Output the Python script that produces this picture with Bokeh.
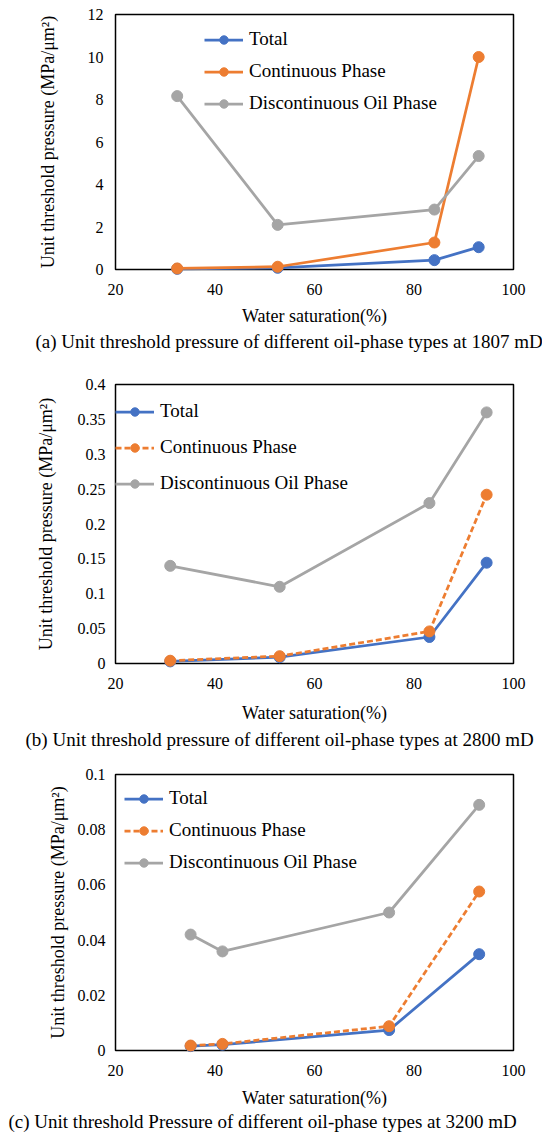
from bokeh.plotting import figure
from bokeh.models import Range1d, FixedTicker, Legend, LegendItem, Title
from bokeh.layouts import column
from bokeh.embed import file_html
from bokeh.resources import INLINE

FONT = "Liberation Serif"
BLUE, ORANGE, GRAY = "#4472C4", "#ED7D31", "#A5A5A5"

series_names = ["Total", "Continuous Phase", "Discontinuous Oil Phase"]
x_ticks = [20, 40, 60, 80, 100]
x_title = "Water saturation(%)"
y_title = "Unit threshold pressure (MPa/\u03bcm\u00b2)"

# (a) 1807 mD
x_a = [32.4, 52.6, 84.1, 93.0]
total_a = [0.03, 0.08, 0.44, 1.05]
cont_a = [0.05, 0.13, 1.27, 10.0]
disc_a = [8.16, 2.10, 2.82, 5.34]
y_ticks_a = [0, 2, 4, 6, 8, 10, 12]
y_labels_a = ["0", "2", "4", "6", "8", "10", "12"]
caption_a = "(a) Unit threshold pressure of different oil-phase types at 1807 mD"

# (b) 2800 mD
x_b = [31.0, 53.0, 83.1, 94.6]
total_b = [0.003, 0.009, 0.038, 0.1445]
cont_b = [0.004, 0.0105, 0.046, 0.242]
disc_b = [0.140, 0.110, 0.230, 0.360]
y_ticks_b = [0, 0.05, 0.1, 0.15, 0.2, 0.25, 0.3, 0.35, 0.4]
y_labels_b = ["0", "0.05", "0.1", "0.15", "0.2", "0.25", "0.3", "0.35", "0.4"]
caption_b = "(b) Unit threshold pressure of different oil-phase types at 2800 mD"

# (c) 3200 mD
x_c = [35.1, 41.5, 75.0, 93.1]
total_c = [0.0016, 0.0021, 0.0074, 0.0349]
cont_c = [0.0018, 0.0024, 0.0088, 0.0576]
disc_c = [0.042, 0.0359, 0.050, 0.089]
y_ticks_c = [0, 0.02, 0.04, 0.06, 0.08, 0.1]
y_labels_c = ["0", "0.02", "0.04", "0.06", "0.08", "0.1"]
caption_c = "(c) Unit threshold Pressure of different oil-phase types at 3200 mD"


def make_panel(xs, series, dashed_cont, yticks, ylabels, caption, cfg):
    p = figure(width=542, height=cfg["h"],
               x_range=Range1d(20, 100), y_range=Range1d(yticks[0], yticks[-1]),
               output_backend="svg", toolbar_location=None,
               min_border_left=cfg["left"], min_border_right=cfg["right"],
               min_border_top=cfg["top"], min_border_bottom=cfg["bottom"])
    p.grid.visible = False
    p.outline_line_color = "black"
    p.outline_line_width = 1.5
    p.outline_line_alpha = 1.0

    for ax in (p.xaxis[0], p.yaxis[0]):
        ax.axis_line_color = None
        ax.major_tick_out = 0
        ax.major_tick_in = 0
        ax.minor_tick_out = 0
        ax.minor_tick_in = 0
        ax.major_label_text_font = FONT
        ax.major_label_text_font_size = "16px"
        ax.major_label_text_color = "black"
        ax.axis_label_text_font = FONT
        ax.axis_label_text_font_size = "18px"
        ax.axis_label_text_font_style = "normal"
        ax.axis_label_text_color = "black"

    xa = p.xaxis[0]
    xa.ticker = FixedTicker(ticks=x_ticks)
    xa.axis_label = x_title
    xa.major_label_standoff = cfg["xls"]
    xa.axis_label_standoff = cfg["xts"]

    ya = p.yaxis[0]
    ya.ticker = FixedTicker(ticks=yticks)
    ya.major_label_overrides = {t: s for t, s in zip(yticks, ylabels)}
    ya.axis_label = y_title
    ya.major_label_standoff = cfg["yls"]
    ya.axis_label_standoff = cfg["yts"]

    colors = [BLUE, ORANGE, GRAY]
    items = []
    for i, (name, ys) in enumerate(zip(series_names, series)):
        dash = "6 3" if (i == 1 and dashed_cont) else "solid"
        r1 = p.line(xs, ys, line_color=colors[i], line_width=2.75, line_dash=dash)
        r2 = p.scatter(xs, ys, marker="circle", size=11, fill_color=colors[i],
                       line_color=colors[i])
        r1.level = "overlay"
        r2.level = "overlay"
        items.append(LegendItem(label=name, renderers=[r1, r2]))

    legend = Legend(items=items, location=cfg["leg"], orientation="vertical",
                    padding=0, margin=0, spacing=cfg["lsp"],
                    glyph_width=39, glyph_height=21, label_height=21,
                    label_standoff=6, label_text_font=FONT,
                    label_text_font_size="19px", label_text_color="black",
                    border_line_color=None, background_fill_alpha=0)
    p.add_layout(legend)

    t = Title(text=caption, align="left", vertical_align="top",
              offset=cfg["coff"], standoff=cfg["cst"],
              text_font=FONT, text_font_size="19px", text_font_style="normal",
              text_color="black")
    p.add_layout(t, "below")
    return p


cfg_a = dict(h=365, left=111, right=26, top=14, bottom=96, xls=14, xts=8,
             yls=12, yts=27, leg=(89, 155), lsp=10, coff=-80, cst=5)
cfg_b = dict(h=390, left=115, right=29, top=19, bottom=91, xls=14, xts=11,
             yls=10, yts=19, leg=(0, 169), lsp=14, coff=-90, cst=7)
cfg_c = dict(h=383, left=114, right=27, top=19, bottom=88, xls=14, xts=9,
             yls=10, yts=7, leg=(9, 177), lsp=10, coff=-107, cst=1)

pa = make_panel(x_a, [total_a, cont_a, disc_a], False, y_ticks_a, y_labels_a, caption_a, cfg_a)
pb = make_panel(x_b, [total_b, cont_b, disc_b], True, y_ticks_b, y_labels_b, caption_b, cfg_b)
pc = make_panel(x_c, [total_c, cont_c, disc_c], True, y_ticks_c, y_labels_c, caption_c, cfg_c)

layout = column(pa, pb, pc, spacing=0)
open("out.html", "w").write(file_html(layout, INLINE))
